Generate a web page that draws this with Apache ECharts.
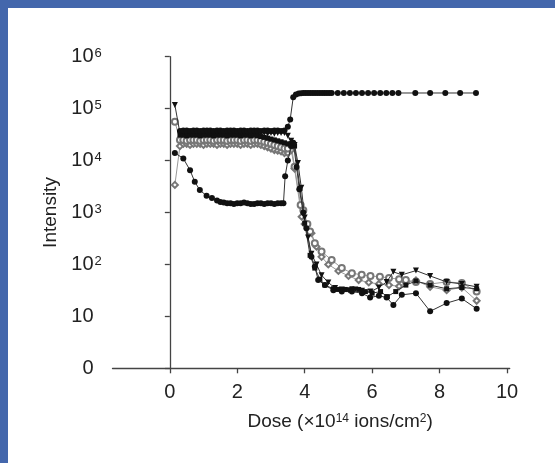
<!DOCTYPE html>
<html>
<head>
<meta charset="utf-8">
<script src="https://cdn.jsdelivr.net/npm/echarts@6/dist/echarts.min.js"></script>
<style>
  html, body { margin: 0; padding: 0; background: #fff; }
  #wrap { position: relative; width: 555px; height: 463px; }
  #chart { position: absolute; left: 0; top: 0; width: 555px; height: 463px; }
  .bar { position: absolute; background: #4467ac; }
</style>
</head>
<body>
<div id="wrap">
  <div id="chart"></div>
  <div class="bar" style="left:0;top:0;width:555px;height:8px"></div>
  <div class="bar" style="left:0;top:0;width:8px;height:463px"></div>
</div>
<script>
// tick values
const xTicks = [0, 2, 4, 6, 8, 10]

// filled circles, upper curve (rises to ~2e5)
const topDose = [0.3, 0.4, 0.5, 0.6, 0.7, 0.8, 0.9, 1.0, 1.1, 1.2, 1.3, 1.4, 1.5, 1.6, 1.7, 1.8, 1.9, 2.0, 2.1, 2.2, 2.3, 2.4, 2.5, 2.6, 2.7, 2.8, 2.9, 3.0, 3.1, 3.2, 3.3, 3.4,
  3.5, 3.57, 3.66, 3.74, 3.82, 3.89, 3.96, 4.03, 4.1, 4.17, 4.24, 4.31, 4.38, 4.45, 4.52, 4.59, 4.66, 4.73, 4.8,
  4.98, 5.16, 5.34, 5.52, 5.7, 5.88, 6.06, 6.24, 6.42, 6.6, 6.78, 7.28, 7.72, 8.17, 8.61, 9.08]
const topVal = [37000, 38000, 38000, 37000, 38000, 38000, 37000, 38000, 38000, 38000, 37000, 38000, 38000, 37000, 38000, 38000, 38000, 37000, 38000, 38000, 37000, 38000, 38000, 38000, 37000, 38000, 38000, 37000, 38000, 38000, 37000, 38000,
  45000, 62000, 165000, 188000, 196000, 198000, 200000, 200000, 200000, 200000, 200000, 200000, 200000, 200000, 200000, 200000, 200000, 200000, 200000,
  200000, 200000, 200000, 200000, 200000, 200000, 200000, 200000, 200000, 200000, 200000, 200000, 200000, 200000, 200000, 200000]

// filled inverted triangles
const triDose = [0.15, 0.3, 0.4, 0.5, 0.6, 0.7, 0.8, 0.9, 1.0, 1.1, 1.2, 1.3, 1.4, 1.5, 1.6, 1.7, 1.8, 1.9, 2.0, 2.1, 2.2, 2.3, 2.4, 2.5, 2.6, 2.7, 2.8, 2.9, 3.0, 3.1, 3.2, 3.3, 3.4,
  3.5, 3.6, 3.7, 3.8, 3.9, 4.0, 4.1, 4.2, 4.35, 4.5, 4.7, 4.9, 5.1, 5.3, 5.5, 5.7, 5.95, 6.2, 6.43, 6.63, 6.88, 7.3, 7.72, 8.21, 8.66, 9.1]
const triVal = [117000, 34000, 34000, 33000, 34000, 34000, 33000, 34000, 34000, 34000, 33000, 34000, 34000, 33000, 34000, 34000, 34000, 33000, 34000, 34000, 33000, 34000, 34000, 34000, 33000, 34000, 34000, 33000, 34000, 33000, 34000, 34000, 34000,
  30000, 24000, 20000, 9000, 3000, 800, 330, 160, 100, 62, 45, 35, 33, 32, 33, 31, 30, 36, 46, 72, 63, 76, 60, 46, 42, 37]

// filled squares
const sqDose = [0.3, 0.4, 0.5, 0.6, 0.7, 0.8, 0.9, 1.0, 1.1, 1.2, 1.3, 1.4, 1.5, 1.6, 1.7, 1.8, 1.9, 2.0, 2.1, 2.2, 2.3, 2.4, 2.5, 2.6, 2.7, 2.8, 2.9, 3.0, 3.1, 3.2, 3.3, 3.4,
  3.5, 3.6, 3.7, 3.86, 4.0, 4.16, 4.3, 4.45, 4.6, 4.85, 5.0, 5.2, 5.4, 5.6, 5.8, 6.0, 6.25, 6.45, 6.7, 7.0, 7.3, 7.72, 8.21, 8.66, 9.1]
const sqVal = [31000, 31000, 30000, 31000, 31000, 31000, 30000, 31000, 31000, 31000, 30000, 31000, 31000, 31000, 30000, 31000, 31000, 31000, 30000, 31000, 31000, 30000, 31000,
  30000, 29000, 28000, 27000, 26000, 25000, 24000, 23000, 22000,
  21000, 21000, 19000, 2900, 620, 150, 85, 52, 40, 34, 33, 33, 34, 33, 30, 28, 30, 24, 30, 40, 48, 40, 34, 36, 34]

// filled circles, lower curve (dips to ~1.5e3)
const lowDose = [0.15, 0.4, 0.6, 0.74, 0.89, 1.09, 1.25, 1.4, 1.5, 1.6, 1.7, 1.8, 1.9, 2.0, 2.1, 2.2, 2.3, 2.4, 2.5, 2.6, 2.7, 2.8, 2.9, 3.0, 3.1, 3.2, 3.3,
  3.37, 3.42, 3.5, 3.6, 3.66, 3.76, 3.84, 3.96, 4.05, 4.2, 4.3, 4.4, 4.6, 4.85, 5.1, 5.4, 5.7, 5.94, 6.2, 6.43, 6.63, 6.88, 7.3, 7.72, 8.21, 8.66, 9.1]
const lowVal = [14000, 11000, 6500, 3900, 2700, 2100, 1900, 1700, 1600, 1550, 1500, 1500, 1450, 1500, 1500, 1550, 1500, 1450, 1450, 1500, 1500, 1450, 1500, 1500, 1450, 1500, 1500,
  1500, 5000, 10000, 19000, 22000, 7500, 2800, 1000, 500, 140, 91, 50, 40, 32, 30, 30, 28, 23, 25, 23, 16.6, 26, 28, 12.5, 18, 22, 14]

// open circles
const ocDose = [0.15, 0.3, 0.4, 0.5, 0.6, 0.7, 0.8, 0.9, 1.0, 1.1, 1.2, 1.3, 1.4, 1.5, 1.6, 1.7, 1.8, 1.9, 2.0, 2.1, 2.2, 2.3, 2.4, 2.5, 2.6, 2.7, 2.8, 2.9, 3.0, 3.1, 3.2, 3.3, 3.4,
  3.5, 3.6, 3.7, 3.88, 3.96, 4.08, 4.16, 4.3, 4.5, 4.8, 5.1, 5.4, 5.69, 5.95, 6.23, 6.5, 6.8, 7.0, 7.3, 7.72, 8.21, 8.66, 9.1]
const ocVal = [56000, 25000, 25000, 24000, 25000, 25000, 25000, 24000, 25000, 25000, 25000, 24000, 25000, 25000, 25000, 24000, 25000, 25000, 25000, 24000, 25000, 25000, 24000, 25000, 25000,
  24000, 23000, 22000, 21000, 20000, 19000, 18000, 17000,
  17000, 20000, 7600, 1400, 1100, 600, 430, 255, 177, 122, 85, 68, 63, 60, 58, 55, 52, 50, 46, 42, 46, 44, 30]

// open diamonds
const odDose = [0.15, 0.3, 0.4, 0.5, 0.6, 0.7, 0.8, 0.9, 1.0, 1.1, 1.2, 1.3, 1.4, 1.5, 1.6, 1.7, 1.8, 1.9, 2.0, 2.1, 2.2, 2.3, 2.4, 2.5, 2.6, 2.7, 2.8, 2.9, 3.0, 3.1, 3.2, 3.3, 3.4,
  3.5, 3.6, 3.7, 3.91, 4.0, 4.2, 4.35, 4.5, 4.7, 5.0, 5.3, 5.6, 5.9, 6.2, 6.5, 6.8, 7.0, 7.3, 7.72, 8.21, 8.66, 9.1]
const odVal = [3400, 19000, 21000, 21000, 20000, 21000, 21000, 21000, 20000, 21000, 21000, 21000, 20000, 21000, 21000, 20000, 21000, 21000, 21000, 20000, 21000, 21000, 20000, 21000, 21000,
  20000, 19000, 18000, 17000, 16000, 15500, 15000, 14000,
  14000, 16000, 7000, 830, 600, 400, 220, 140, 100, 75, 60, 50, 45, 42, 40, 38, 45, 49, 37, 32, 36, 20]

const tickFont = '"Liberation Sans", Arial, sans-serif'
const nameFont = '"Liberation Sans", Arial, sans-serif'

const pairs = (xs, ys) => xs.map((x, i) => [x, ys[i]])

const mkSeries = (dose, val, symbol, filled, extra) => Object.assign({
  type: 'line',
  data: pairs(dose, val),
  symbol: symbol,
  symbolSize: 6,
  showAllSymbol: true,
  lineStyle: { color: filled ? '#333' : '#999', width: 1 },
  itemStyle: filled ? { color: '#111' } : { color: '#777', borderWidth: 1.2 },
  z: filled ? 3 : 2
}, extra || {})

const chart = echarts.init(document.getElementById('chart'), null, { renderer: 'canvas' })
chart.setOption({
  animation: false,
  backgroundColor: 'transparent',
  grid: { left: 112.5, right: 45.3, top: 56.7, bottom: 94.7 },
  xAxis: {
    type: 'value',
    min: -1.7,
    max: 10.08,
    name: '{a|Dose (×10}{s|14}{a| ions/cm}{s|2}{a|)}',
    nameLocation: 'middle',
    nameGap: 44,
    nameTextStyle: {
      padding: [0, 0, 0, 58],
      rich: {
        a: { fontFamily: nameFont, fontSize: 19, color: '#222' },
        s: { fontFamily: nameFont, fontSize: 12, color: '#222', verticalAlign: 'top' }
      }
    },
    axisLine: { lineStyle: { color: '#444', width: 1.3 } },
    axisTick: { customValues: xTicks, length: 5, lineStyle: { color: '#444', width: 1.3 } },
    axisLabel: { customValues: xTicks, margin: 14, fontFamily: tickFont, fontSize: 20, color: '#222' },
    splitLine: { show: false }
  },
  yAxis: {
    type: 'log',
    logBase: 10,
    min: 1,
    max: 1000000,
    name: 'Intensity',
    nameLocation: 'middle',
    nameGap: 41,
    nameTextStyle: { fontFamily: nameFont, fontSize: 19, color: '#222' },
    axisLine: { show: true, lineStyle: { color: '#444', width: 1.3 } },
    axisTick: { show: true, length: 5, lineStyle: { color: '#444', width: 1.3 } },
    axisLabel: {
      margin: 10,
      formatter: (v) => {
        const e = Math.round(Math.log10(v))
        if (e === 0) return '{b|0}{s|\u00a0}'
        if (e === 1) return '{b|10}{s|\u00a0}'
        return '{b|10}{s|' + e + '}'
      },
      rich: {
        b: { fontFamily: tickFont, fontSize: 20, color: '#222' },
        s: { fontFamily: tickFont, fontSize: 13, color: '#222', width: 9, align: 'left', verticalAlign: 'top' }
      }
    },
    splitLine: { show: false }
  },
  series: [
    mkSeries(odDose, odVal, 'emptyDiamond', false),
    mkSeries(ocDose, ocVal, 'emptyCircle', false),
    mkSeries(sqDose, sqVal, 'rect', true, { symbolSize: 5 }),
    mkSeries(lowDose, lowVal, 'circle', true),
    mkSeries(triDose, triVal, 'triangle', true, { symbolRotate: 180 }),
    mkSeries(topDose, topVal, 'circle', true)
  ]
})
</script>
</body>
</html>
